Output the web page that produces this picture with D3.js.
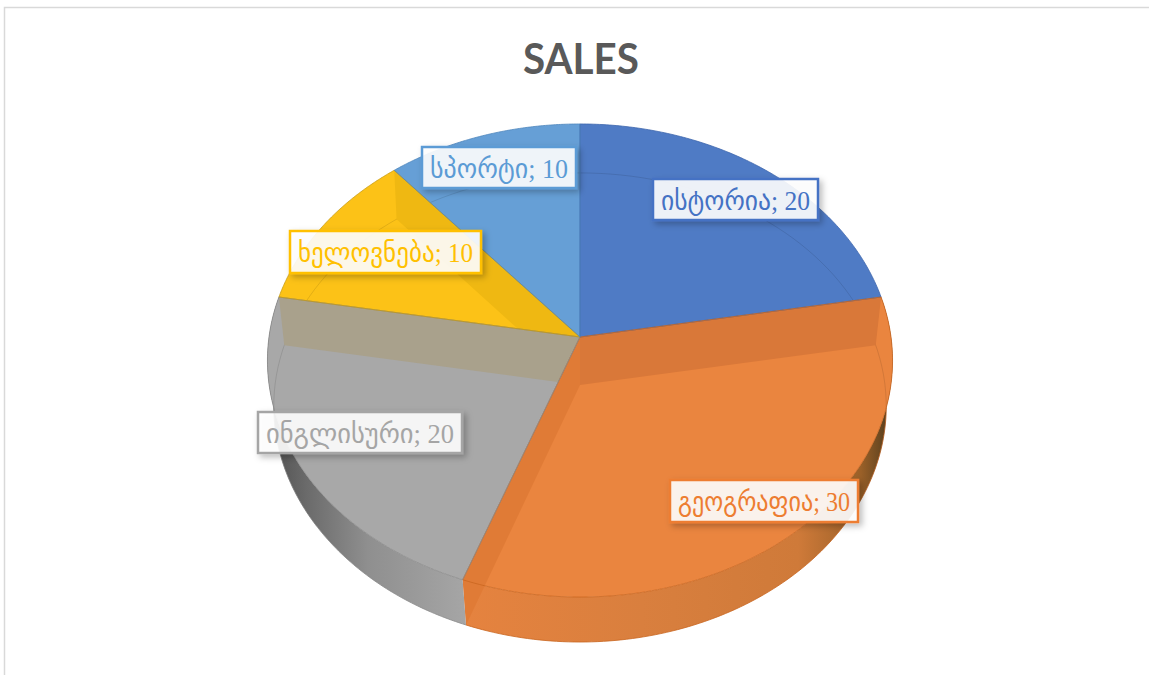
<!DOCTYPE html>
<html>
<head>
<meta charset="utf-8">
<script src="https://cdn.jsdelivr.net/npm/d3@7"></script>
<style>
  html, body { margin: 0; padding: 0; background: #fff; overflow: hidden; }
  svg { display: block; }
</style>
</head>
<body>
<div id="plot"></div>
<script>
const title = 'SALES';
const categories = ['ისტორია', 'გეოგრაფია', 'ინგლისური', 'ხელოვნება', 'სპორტი'];
const values = [20, 30, 20, 10, 10];
const colors = ['#4f7bc5', '#ea853f', '#a8a8a8', '#fcc217', '#669fd6'];
const edgeColors = ['#3f67ad', '#c9661f', '#8a8a8a', '#c79a12', '#4f86bd'];
const textColors = ['#4472c4', '#ed7d31', '#a5a5a5', '#ffc000', '#5b9bd5'];

const width = 1149, height = 675;

// the disc is a tilted cylinder, so both faces need a perspective projection
const topFace = { cx: 580, cy: 337, rx: 311, ry: 234.2, kx: 0.0994, ky: 0.0994 };
const baseFace = { cx: 580, cy: 385, rx: 305, ry: 232.4, kx: 0.09, ky: 0.0958 };
const project = (f, a, r = 1) => {
    const X = Math.sin(a) * r, Y = -Math.cos(a) * r;
    return [f.cx + f.rx * X / (1 - f.kx * Y), f.cy + f.ry * Y / (1 - f.ky * Y)];
};

const svg = d3.select('#plot').append('svg')
    .attr('width', width)
    .attr('height', height);
const defs = svg.append('defs');

// frame of the chart area
svg.append('path')
    .attr('d', `M4.5,${height}V7.5H${width}`)
    .attr('fill', 'none')
    .attr('stroke', '#d9d9d9')
    .attr('stroke-width', 1.5);

svg.append('text')
    .attr('x', 581)
    .attr('y', 74)
    .attr('text-anchor', 'middle')
    .attr('font-family', 'Lato, "Open Sans", sans-serif')
    .attr('font-weight', 700)
    .attr('font-size', 42)
    .attr('textLength', 116)
    .attr('lengthAdjust', 'spacingAndGlyphs')
    .attr('fill', '#595959')
    .text(title);

const arcs = d3.pie().sort(null).value(d => d)(values);
const line = d3.line();
const arcPoints = (f, a0, a1) => d3.range(0, 121).map(i => project(f, a0 + (a1 - a0) * i / 120));
const wedgePath = d => line([[topFace.cx, topFace.cy], ...arcPoints(topFace, d.startAngle, d.endAngle)]) + 'Z';
const wallPath = d => line([
    ...arcPoints(topFace, d.startAngle, d.endAngle),
    ...arcPoints(baseFace, d.endAngle, d.startAngle)
]) + 'Z';

// side wall shading runs left to right
const shade = (id, stops) => {
    const g = defs.append('linearGradient')
        .attr('id', id)
        .attr('gradientUnits', 'userSpaceOnUse')
        .attr('x1', 268).attr('x2', 892).attr('y1', 0).attr('y2', 0);
    stops.forEach(([o, c]) => g.append('stop').attr('offset', o).attr('stop-color', c));
};
shade('wallGrey', [[0, '#4e4e4e'], [0.06, '#6a6a6a'], [0.16, '#8f8f8f'], [0.32, '#a6a6a6']]);
shade('wallOrange', [[0.3, '#e6833f'], [0.6, '#d97f3e'], [0.85, '#cf7a39'], [0.95, '#9a6028'], [1, '#4f3a1c']]);

const wallFill = { 1: 'url(#wallOrange)', 2: 'url(#wallGrey)' };
[1, 2].forEach(i => {
    svg.append('path')
        .attr('d', wallPath(arcs[i]))
        .attr('fill', wallFill[i]);
    svg.append('path')
        .attr('d', line(arcPoints(baseFace, arcs[i].startAngle, arcs[i].endAngle)))
        .attr('fill', 'none')
        .attr('stroke', edgeColors[i])
        .attr('stroke-width', 0.8);
});

// top faces
svg.append('g').selectAll('path')
    .data(arcs)
    .join('path')
    .attr('d', wedgePath)
    .attr('fill', (d, i) => colors[i]);

// back edge of the base showing through
const backStart = -125 * Math.PI / 180, backEnd = 125 * Math.PI / 180;
svg.append('path')
    .attr('d', line(arcPoints(baseFace, backStart, backEnd)))
    .attr('fill', 'none')
    .attr('stroke', '#000')
    .attr('stroke-opacity', 0.1)
    .attr('stroke-width', 1);

// clips so the see-through inner walls stay inside one slice
arcs.forEach((d, i) => {
    const clip = defs.append('clipPath').attr('id', 'slice' + i);
    clip.append('path').attr('d', wedgePath(d));
    if (wallFill[i]) clip.append('path').attr('d', wallPath(d));
});

// inner walls seen through the translucent top
const innerWalls = [
    { slice: 1, angle: arcs[1].startAngle, fill: '#d97839' },
    { slice: 1, angle: arcs[1].endAngle, fill: '#e07b36' },
    { slice: 2, angle: arcs[2].endAngle, fill: '#a9a18c' },
    { slice: 3, angle: arcs[3].endAngle, fill: '#efb812' }
];
svg.append('g').selectAll('path')
    .data(innerWalls)
    .join('path')
    .attr('clip-path', d => `url(#slice${d.slice})`)
    .attr('d', d => line([
        [topFace.cx, topFace.cy],
        project(topFace, d.angle),
        project(baseFace, d.angle),
        [baseFace.cx, baseFace.cy]
    ]) + 'Z')
    .attr('fill', d => d.fill);

// slice outlines
svg.append('g').selectAll('path')
    .data(arcs)
    .join('path')
    .attr('d', wedgePath)
    .attr('fill', 'none')
    .attr('stroke', (d, i) => edgeColors[i])
    .attr('stroke-width', 0.8);

// data labels
const shadow = defs.append('filter')
    .attr('id', 'labelShadow')
    .attr('x', '-15%').attr('y', '-30%')
    .attr('width', '130%').attr('height', '170%');
shadow.append('feDropShadow')
    .attr('dx', 3).attr('dy', 3)
    .attr('stdDeviation', 3)
    .attr('flood-color', '#000')
    .attr('flood-opacity', 0.28);

const labelBoxes = [
    { x: 653, y: 179, w: 165, h: 41 },
    { x: 670, y: 480, w: 188, h: 42 },
    { x: 258, y: 412, w: 204, h: 41 },
    { x: 290, y: 231, w: 191, h: 42 },
    { x: 422, y: 147, w: 154, h: 41 }
];
const labels = svg.append('g').selectAll('g')
    .data(arcs)
    .join('g');
labels.append('rect')
    .attr('x', (d, i) => labelBoxes[i].x)
    .attr('y', (d, i) => labelBoxes[i].y)
    .attr('width', (d, i) => labelBoxes[i].w)
    .attr('height', (d, i) => labelBoxes[i].h)
    .attr('fill', '#fff')
    .attr('fill-opacity', 0.89)
    .attr('stroke', (d, i) => textColors[i])
    .attr('stroke-width', 2.5)
    .attr('filter', 'url(#labelShadow)');
labels.append('text')
    .attr('x', (d, i) => labelBoxes[i].x + labelBoxes[i].w / 2)
    .attr('y', (d, i) => labelBoxes[i].y + labelBoxes[i].h / 2 + 10)
    .attr('text-anchor', 'middle')
    .attr('font-family', '"Liberation Serif", "DejaVu Sans", serif')
    .attr('font-size', 27)
    .attr('textLength', (d, i) => labelBoxes[i].w - 16)
    .attr('lengthAdjust', 'spacingAndGlyphs')
    .attr('fill', (d, i) => textColors[i])
    .text((d, i) => `${categories[i]}; ${d.value}`);
</script>
</body>
</html>
